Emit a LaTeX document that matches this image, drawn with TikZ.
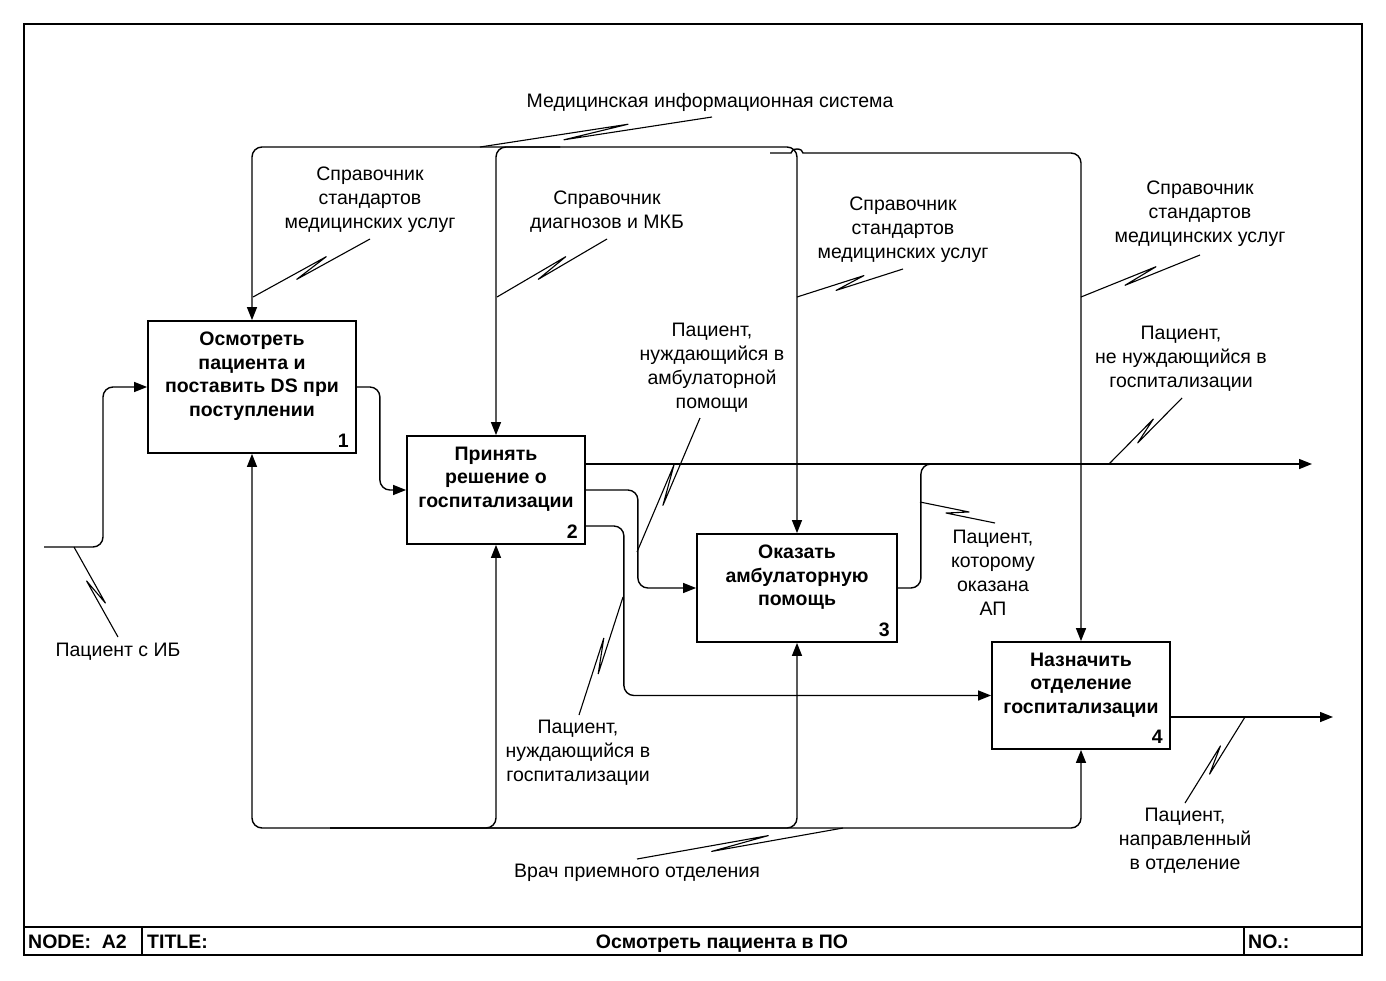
\documentclass[tikz,border=0pt]{standalone}
\usepackage{fontspec}
\setmainfont{Liberation Sans}
\usetikzlibrary{calc, positioning, arrows.meta}
\definecolor{idefBlack}{RGB}{0, 0, 0}

% stroke with a zigzag, from the arrow to its label
\newcommand{\leaderZig}[2]{%
  \draw[leaderLine] (#1) -- ($(#1)!0.64!(#2)!3.6pt!90:(#2)$) -- ($(#1)!0.36!(#2)!3.6pt!-90:(#2)$) -- (#2);}

\begin{document}
\begin{tikzpicture}[
        x=1pt, y=-1pt,
        actBox/.style={draw=idefBlack, line width=1.8pt, inner sep=0pt},
        actText/.style={font=\bfseries\fontsize{19.5}{23.7}\selectfont, align=center, inner sep=0pt},
        numText/.style={font=\bfseries\fontsize{19.5}{20}\selectfont, inner sep=0pt},
        lblNode/.style={font=\fontsize{19.5}{24}\selectfont, align=center, inner sep=0pt},
        titleText/.style={font=\bfseries\fontsize{19.5}{20}\selectfont, inner sep=0pt},
        flow/.style={draw=idefBlack, line width=1.4pt, rounded corners=10pt, -{Triangle[length=13pt,width=10pt]}},
        wire/.style={draw=idefBlack, line width=1.4pt, rounded corners=10pt},
        leaderLine/.style={draw=idefBlack, line width=1.1pt, line join=round},
        frameLine/.style={draw=idefBlack, line width=1.8pt}
    ]
        \useasboundingbox (0,0) rectangle (1386,980);

        % frame and title row
        \draw[frameLine] (24,24) rectangle (1362,955);
        \draw[frameLine] (24,927) -- (1362,927);
        \draw[frameLine] (142,927) -- (142,955);
        \draw[frameLine] (1244,927) -- (1244,955);
        \node[titleText, anchor=base west] (nodeKey) at (28,948) {NODE:\ \ A2};
        \node[titleText, anchor=base west] (titleKey) at (147,948) {TITLE:};
        \node[titleText, anchor=base] (titleVal) at (722,948) {Осмотреть пациента в ПО};
        \node[titleText, anchor=base west] (noKey) at (1248,948) {NO.:};

        % activity boxes
        \node[actBox, minimum width=208pt, minimum height=132pt] (act1) at (252,387) {};
        \node[actBox, minimum width=178pt, minimum height=108pt] (act2) at (496,490) {};
        \node[actBox, minimum width=200pt, minimum height=108pt] (act3) at (797,588) {};
        \node[actBox, minimum width=178pt, minimum height=107pt] (act4) at (1081,695.5) {};

        \node[actText, below=11.5pt of act1.north] (act1Txt) {Осмотреть\\пациента и\\поставить DS при\\поступлении};
        \node[actText, below=11.5pt of act2.north] (act2Txt) {Принять\\решение о\\госпитализации};
        \node[actText, below=11.5pt of act3.north] (act3Txt) {Оказать\\амбулаторную\\помощь};
        \node[actText, below=11.5pt of act4.north] (act4Txt) {Назначить\\отделение\\госпитализации};

        \node[numText, anchor=south east] (act1Num) at ([shift={(-8pt,6pt)}]act1.south east) {1};
        \node[numText, anchor=south east] (act2Num) at ([shift={(-8pt,6pt)}]act2.south east) {2};
        \node[numText, anchor=south east] (act3Num) at ([shift={(-8pt,6pt)}]act3.south east) {3};
        \node[numText, anchor=south east] (act4Num) at ([shift={(-8pt,6pt)}]act4.south east) {4};

        % inputs and outputs
        \coordinate (inSrc) at (44,547);
        \coordinate (outNoHosp) at (1312,464);
        \coordinate (joinNoHosp) at (950,464);
        \coordinate (outDept) at (1333,717);
        \draw[flow] (inSrc) -- ++(59,0) |- (act1.west);
        \draw[flow] (act1.east) -- ++(23,0) |- (act2.west);
        \draw[flow] ([yshift=26pt]act2.east) -- (outNoHosp);
        \draw[flow] (act2.east) -- ++(52,0) |- (act3.west);
        \draw[flow] ([yshift=-36pt]act2.east) -- ++(38,0) |- (act4.west);
        \draw[wire] (act3.east) -- ++(23,0) |- (joinNoHosp);
        \draw[flow] ([yshift=-21.5pt]act4.east) -- (outDept);

        % controls
        \coordinate (ctlSrc) at (560,147);
        \coordinate (ctlBr) at (770,153);
        \draw[flow] (ctlSrc) -| (act1.north);
        \draw[flow] (ctlSrc) -| (act2.north);
        \draw[flow] (ctlSrc) -| (act3.north);
        \draw[flow] (ctlBr) [sharp corners] -- ++(21,0) arc[start angle=180, end angle=0, x radius=6pt, y radius=4pt] [rounded corners=10pt] -| (act4.north);

        % mechanisms
        \coordinate (mechSrc) at (330,828);
        \draw[flow] (mechSrc) -| (act1.south);
        \draw[flow] (mechSrc) -| (act2.south);
        \draw[flow] (mechSrc) -| (act3.south);
        \draw[flow] (mechSrc) -| (act4.south);

        % arrow labels
        \node[lblNode] (lblMis) at (710,102) {Медицинская информационная система};
        \node[lblNode] (lblStd1) at (370,200) {Справочник\\стандартов\\медицинских услуг};
        \node[lblNode] (lblMkb) at (607,212) {Справочник\\диагнозов и МКБ};
        \node[lblNode] (lblStd2) at (903,230) {Справочник\\стандартов\\медицинских услуг};
        \node[lblNode] (lblStd3) at (1200,214) {Справочник\\стандартов\\медицинских услуг};
        \node[lblNode] (lblAmb) at (712,368) {Пациент,\\нуждающийся в\\амбулаторной\\помощи};
        \node[lblNode] (lblNoHosp) at (1181,359) {Пациент,\\не нуждающийся в\\госпитализации};
        \node[lblNode] (lblIn) at (118,652) {Пациент с ИБ};
        \node[lblNode] (lblHosp) at (578,753) {Пациент,\\нуждающийся в\\госпитализации};
        \node[lblNode] (lblAp) at (993,573) {Пациент,\\которому\\оказана\\АП};
        \node[lblNode] (lblDept) at (1185,841) {Пациент,\\направленный\\в отделение};
        \node[lblNode] (lblDoc) at (637,873) {Врач приемного отделения};

        % leaders
        \coordinate (zMisA) at (480,147);   \coordinate (zMisB) at (712,117);
        \coordinate (zStd1A) at (253,297);  \coordinate (zStd1B) at (370,239);
        \coordinate (zMkbA) at (497,297);   \coordinate (zMkbB) at (607,239);
        \coordinate (zStd2A) at (797,297);  \coordinate (zStd2B) at (903,269);
        \coordinate (zStd3A) at (1081,297); \coordinate (zStd3B) at (1200,255);
        \coordinate (zAmbA) at (637,552);   \coordinate (zAmbB) at (700,418);
        \coordinate (zNoA) at (1109,464);   \coordinate (zNoB) at (1182,398);
        \coordinate (zInA) at (74,547);     \coordinate (zInB) at (118,637);
        \coordinate (zHospA) at (623,597);  \coordinate (zHospB) at (579,715);
        \coordinate (zApA) at (920,502);    \coordinate (zApB) at (995,523);
        \coordinate (zDeptA) at (1245,717); \coordinate (zDeptB) at (1185,803);
        \coordinate (zDocA) at (843,828);   \coordinate (zDocB) at (637,859);
        \leaderZig{zMisA}{zMisB}
        \leaderZig{zStd1A}{zStd1B}
        \leaderZig{zMkbA}{zMkbB}
        \leaderZig{zStd2A}{zStd2B}
        \leaderZig{zStd3A}{zStd3B}
        \leaderZig{zAmbA}{zAmbB}
        \leaderZig{zNoA}{zNoB}
        \leaderZig{zInA}{zInB}
        \leaderZig{zHospA}{zHospB}
        \leaderZig{zApA}{zApB}
        \leaderZig{zDeptA}{zDeptB}
        \leaderZig{zDocA}{zDocB}
    \end{tikzpicture}
\end{document}
